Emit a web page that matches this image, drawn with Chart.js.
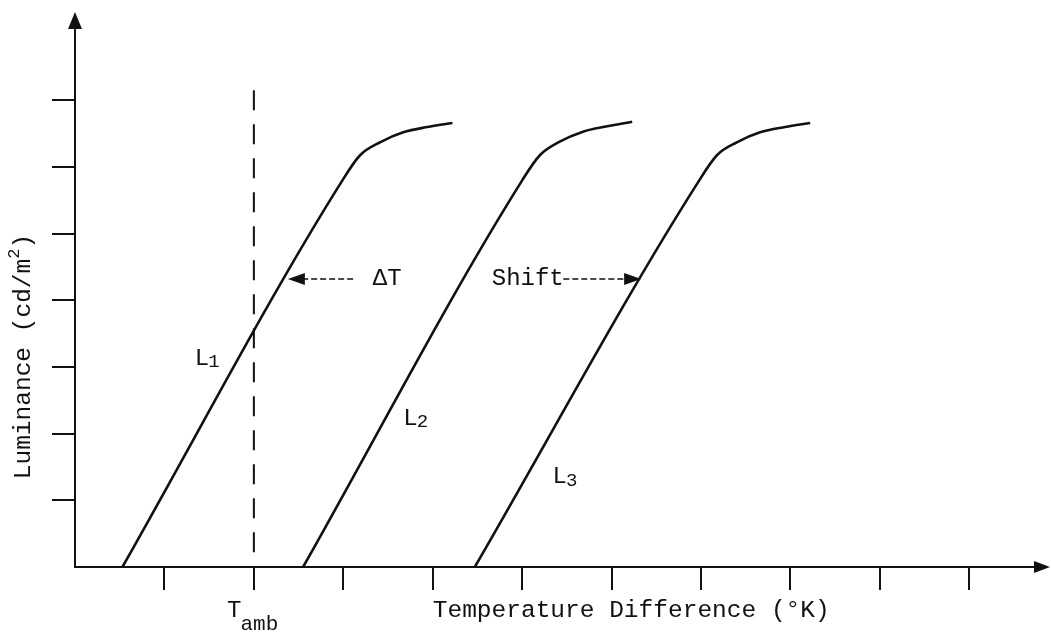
<!DOCTYPE html>
<html>
<head>
<meta charset="utf-8">
<script src="https://cdn.jsdelivr.net/npm/chart.js@4.4.1/dist/chart.umd.min.js"></script>
<style>
  html, body { margin: 0; padding: 0; background: #fff; }
  #wrap { width: 1051px; height: 637px; }
</style>
</head>
<body>
<div id="wrap"><canvas id="chart" width="1051" height="637"></canvas></div>
<script>
// tick positions (no labels in the original)
const xTicks = [1, 2, 3, 4, 5, 6, 7, 8, 9, 10];
const yTicks = [1, 2, 3, 4, 5, 6, 7];

// luminance curves
const l1X = [0.53, 2.99, 3.19, 3.41, 3.67, 3.94, 4.22];
const l1Y = [0, 5.80, 6.18, 6.37, 6.52, 6.60, 6.66];
const l2X = [2.55, 5.00, 5.20, 5.42, 5.68, 5.95, 6.23];
const l2Y = [0, 5.80, 6.18, 6.38, 6.53, 6.61, 6.68];
const l3X = [4.47, 6.98, 7.18, 7.40, 7.66, 7.94, 8.22];
const l3Y = [0, 5.80, 6.18, 6.37, 6.52, 6.60, 6.66];

// ambient temperature marker
const tAmbX = 2;
const tAmbTop = 7.15;

// annotation arrows (tail x, head x, y)
const deltaArrow = [3.11, 2.38, 4.32];
const shiftArrow = [5.46, 6.33, 4.32];

const INK = '#111';
const FONT = '"Liberation Mono", "DejaVu Sans Mono", monospace';

const pts = (xs, ys) => xs.map((x, i) => ({ x, y: ys[i] }));

const curve = (data) => ({
  data, borderColor: INK, borderWidth: 2.6, pointRadius: 0,
  cubicInterpolationMode: 'monotone', fill: false
});

const dashed = (data, dash, width) => ({
  data, borderColor: INK, borderWidth: width, pointRadius: 0,
  borderDash: dash, tension: 0, fill: false
});

function arrowHead(ctx, x, y, dir, len, half) {
  ctx.beginPath();
  ctx.moveTo(x, y);
  if (dir === 'left')  { ctx.lineTo(x + len, y - half); ctx.lineTo(x + len, y + half); }
  if (dir === 'right') { ctx.lineTo(x - len, y - half); ctx.lineTo(x - len, y + half); }
  if (dir === 'up')    { ctx.lineTo(x - half, y + len); ctx.lineTo(x + half, y + len); }
  ctx.closePath();
  ctx.fill();
}

// label with a lowered small part
function subText(ctx, x, y, main, small, dy, smallSize) {
  ctx.font = `24px ${FONT}`;
  ctx.fillText(main, x, y);
  const w = ctx.measureText(main).width;
  ctx.font = `${smallSize}px ${FONT}`;
  ctx.fillText(small, x + w - 1, y + dy);
}

const annotations = {
  id: 'annotations',
  afterDraw(chart) {
    const { ctx, scales: { x, y }, chartArea } = chart;
    ctx.save();
    ctx.fillStyle = INK;
    ctx.strokeStyle = INK;

    // axis arrows
    arrowHead(ctx, chartArea.left, 12, 'up', 17, 7);
    ctx.lineWidth = 2;
    ctx.beginPath();
    ctx.moveTo(chartArea.left, 28);
    ctx.lineTo(chartArea.left, chartArea.top);
    ctx.moveTo(chartArea.right, chartArea.bottom);
    ctx.lineTo(1036, chartArea.bottom);
    ctx.stroke();
    arrowHead(ctx, 1050, chartArea.bottom, 'right', 16, 6);

    // annotation arrow heads
    arrowHead(ctx, x.getPixelForValue(deltaArrow[1]), y.getPixelForValue(deltaArrow[2]), 'left', 17, 6);
    arrowHead(ctx, x.getPixelForValue(shiftArrow[1]), y.getPixelForValue(shiftArrow[2]), 'right', 17, 6);

    ctx.textBaseline = 'middle';
    ctx.textAlign = 'left';
    ctx.font = `24px ${FONT}`;
    ctx.fillText('\u0394T', x.getPixelForValue(3.33), y.getPixelForValue(4.32));
    ctx.fillText('Shift', x.getPixelForValue(4.66), y.getPixelForValue(4.32));

    subText(ctx, x.getPixelForValue(1.34), y.getPixelForValue(3.13), 'L', '1', 4, 19);
    subText(ctx, x.getPixelForValue(3.67), y.getPixelForValue(2.23), 'L', '2', 4, 19);
    subText(ctx, x.getPixelForValue(5.34), y.getPixelForValue(1.35), 'L', '3', 4, 19);

    // x axis texts
    ctx.textBaseline = 'alphabetic';
    ctx.font = `24.5px ${FONT}`;
    ctx.fillText('Temperature Difference (\u00b0K)', x.getPixelForValue(4.0), chartArea.bottom + 50);
    subText(ctx, x.getPixelForValue(1.7), chartArea.bottom + 50, 'T', 'amb', 13, 21);

    // y axis title
    ctx.translate(30, y.getPixelForValue(3.15));
    ctx.rotate(-Math.PI / 2);
    const title = 'Luminance (cd/m';
    ctx.font = `24.5px ${FONT}`;
    const tw = ctx.measureText(title).width + 24;
    const sx = -tw / 2;
    ctx.fillText(title, sx, 0);
    let cx = sx + ctx.measureText(title).width;
    ctx.font = `17px ${FONT}`;
    ctx.fillText('2', cx, -11);
    cx += ctx.measureText('2').width;
    ctx.font = `24.5px ${FONT}`;
    ctx.fillText(')', cx, 0);
    ctx.restore();
  }
};

new Chart(document.getElementById('chart'), {
  type: 'line',
  data: {
    datasets: [
      curve(pts(l1X, l1Y)),
      curve(pts(l2X, l2Y)),
      curve(pts(l3X, l3Y)),
      dashed([{ x: tAmbX, y: tAmbTop }, { x: tAmbX, y: 0 }], [20, 14], 2),
      dashed([{ x: deltaArrow[0], y: deltaArrow[2] }, { x: deltaArrow[1] + 0.1, y: deltaArrow[2] }], [6, 3], 1.6),
      dashed([{ x: shiftArrow[0], y: shiftArrow[2] }, { x: shiftArrow[1] - 0.1, y: shiftArrow[2] }], [6, 3], 1.6)
    ]
  },
  options: {
    responsive: false,
    animation: false,
    layout: { padding: { left: 52, right: 11, top: 25, bottom: 47 } },
    plugins: { legend: { display: false }, tooltip: { enabled: false } },
    scales: {
      x: {
        type: 'linear', min: 0, max: 10.79,
        afterBuildTicks: (s) => { s.ticks = xTicks.map(v => ({ value: v })); },
        ticks: { display: false },
        grid: { drawOnChartArea: false, drawTicks: true, tickLength: 23, color: INK, lineWidth: 2 },
        border: { display: true, color: INK, width: 2 }
      },
      y: {
        type: 'linear', min: 0, max: 8.13,
        afterBuildTicks: (s) => { s.ticks = yTicks.map(v => ({ value: v })); },
        ticks: { display: false },
        grid: { drawOnChartArea: false, drawTicks: true, tickLength: 23, color: INK, lineWidth: 2 },
        border: { display: true, color: INK, width: 2 }
      }
    }
  },
  plugins: [annotations]
});
</script>
</body>
</html>
